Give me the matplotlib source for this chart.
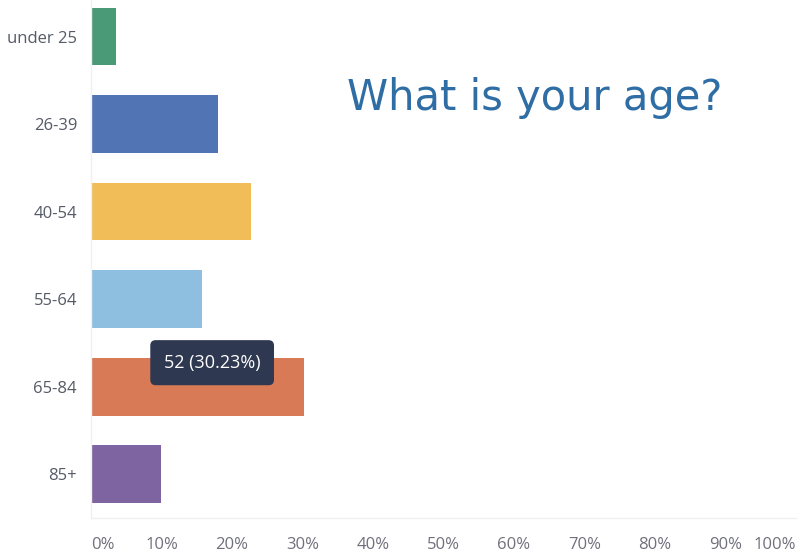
import matplotlib.pyplot as plt
import matplotlib.ticker as mticker

# 응답 데이터 (총 172명)
categories = ['under 25', '26-39', '40-54', '55-64', '65-84', '85+']
counts = [6, 31, 39, 27, 52, 17]
colors = ['#4a9a78', '#5175b4', '#f0bd58', '#8ebfe0', '#d97a57', '#7e64a0']
xticks = [0, 10, 20, 30, 40, 50, 60, 70, 80, 90, 100]
highlight = 4  # 툴팁이 떠 있는 막대 (65-84)

total = sum(counts)
pcts = [c / total * 100 for c in counts]

plt.rcParams['font.family'] = ['Open Sans', 'DejaVu Sans']

fig = plt.figure(figsize=(7.99, 5.55), dpi=100)
ax = fig.add_axes([91 / 799, 1 - 518 / 555, 705 / 799, 518 / 555])

ax.barh(range(len(categories)), pcts, height=0.66, color=colors)

ax.set_xlim(0, 100)
ax.set_ylim(5.5, -0.417)
ax.set_yticks(range(len(categories)))
ax.set_yticklabels(categories, fontsize=12, color='#555a66')
ax.set_xticks(xticks)
ax.set_xticklabels([f'{t}%' for t in xticks], fontsize=12, color='#70707c')
ax.tick_params(axis='both', length=0)
ax.tick_params(axis='y', pad=10)
ax.tick_params(axis='x', pad=14)
labels = ax.get_xticklabels()
labels[0].set_ha('left')
labels[-1].set_ha('right')

for s in ['top', 'right']:
    ax.spines[s].set_visible(False)
for s in ['left', 'bottom']:
    ax.spines[s].set_color('#f0f0f0')
    ax.spines[s].set_linewidth(1)

# 툴팁
ax.annotate(f'{counts[highlight]} ({pcts[highlight]:.2f}%)',
            xy=(pcts[highlight], highlight), xytext=(-92, 24),
            textcoords='offset pixels', ha='center', va='center',
            fontsize=13, color='white',
            bbox=dict(boxstyle='round,pad=0.75,rounding_size=0.3',
                      fc='#2e3850', ec='none'))

fig.text(535 / 799, 1 - 98 / 555, 'What is your age?', fontsize=30,
         color='#2f6ea5', ha='center', va='center', family='DejaVu Sans')

fig.savefig('out.png', dpi=100)
